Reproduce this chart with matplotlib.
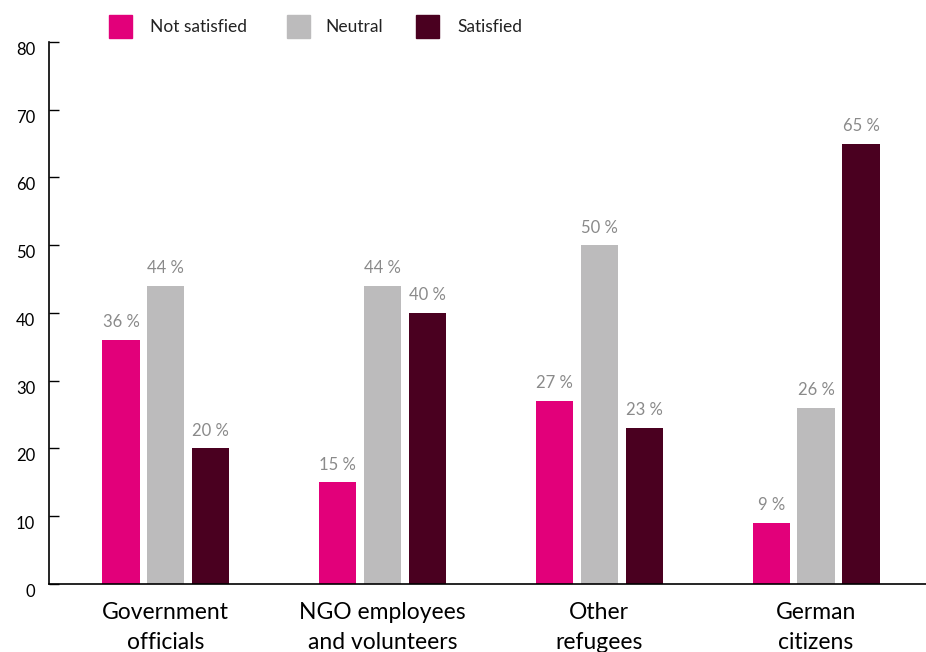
import numpy as np
import matplotlib.pyplot as plt
from matplotlib.patches import Rectangle

plt.rcParams['font.family'] = ['Lato', 'DejaVu Sans']

groups = ["Government\nofficials", "NGO employees\nand volunteers", "Other\nrefugees", "German\ncitizens"]
series = ["Not satisfied", "Neutral", "Satisfied"]
not_satisfied = [36, 15, 27, 9]
neutral = [44, 44, 50, 26]
satisfied = [20, 40, 23, 65]
colors = ["#e2007a", "#bcbbbc", "#4a0020"]

fig = plt.figure(figsize=(9.26, 6.52), dpi=100)
ax = fig.add_axes([0.0529, 0.1043, 0.9471, 0.8313])

x = np.arange(len(groups))
width = 0.172
step = 0.207
for i, vals in enumerate([not_satisfied, neutral, satisfied]):
    bars = ax.bar(x + (i - 1) * step, vals, width, color=colors[i], zorder=2)
    for b, v in zip(bars, vals):
        ax.annotate(f"{v} %", (b.get_x() + b.get_width() / 2, v),
                    xytext=(0, 7), textcoords="offset points",
                    ha="center", va="bottom", fontsize=12, color="#8a8a8a")

ax.set_xlim(-0.539, 3.507)
ax.set_ylim(0, 80)
ax.set_yticks(range(0, 81, 10))
ax.tick_params(axis="y", direction="in", length=7, width=1, labelsize=12, pad=10)
ax.set_xticks(x)
ax.set_xticklabels(groups, fontsize=16.5, linespacing=1.5)
ax.tick_params(axis="x", length=0, pad=13)
for lab in ax.get_yticklabels():
    lab.set_verticalalignment("top")
ax.spines["top"].set_visible(False)
ax.spines["right"].set_visible(False)
for s in ("left", "bottom"):
    ax.spines[s].set_linewidth(1.2)

# legend along the top
W, H = fig.get_size_inches() * fig.dpi
legend_x = [109, 287, 416]
text_x = [150, 325, 457]
for lx, tx, c, name in zip(legend_x, text_x, colors, series):
    fig.add_artist(Rectangle((lx / W, 1 - 38 / H), 23 / W, 23 / H,
                             transform=fig.transFigure, color=c))
    fig.text(tx / W, 1 - 26.5 / H, name, fontsize=12.5, va="center", ha="left", color="#222222")

fig.savefig("out.png", dpi=100)
